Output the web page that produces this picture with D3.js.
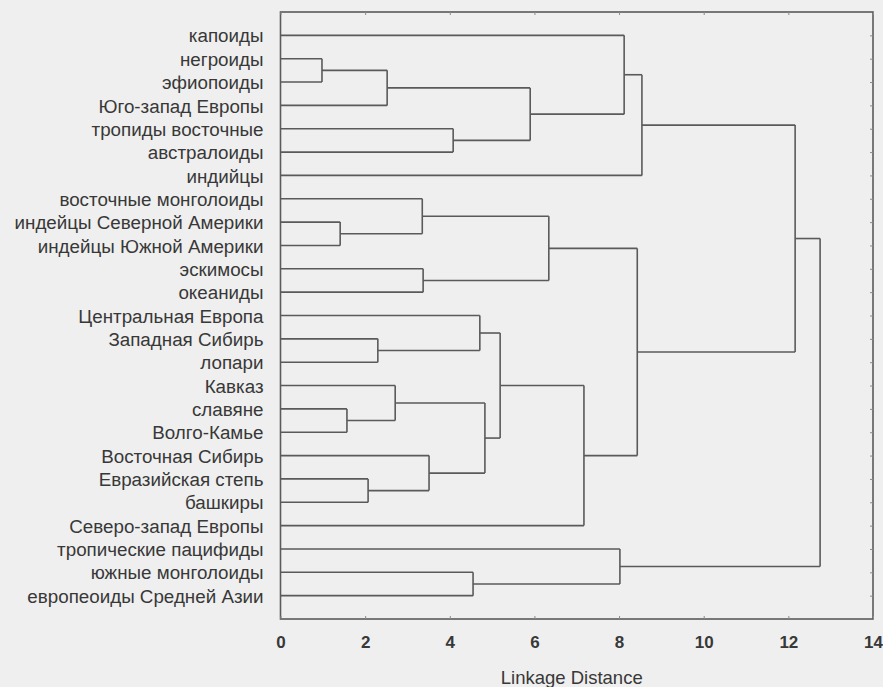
<!DOCTYPE html>
<html>
<head>
<meta charset="utf-8">
<script src="https://cdn.jsdelivr.net/npm/d3@7"></script>
<style>
  body { margin: 0; background: #efefef; }
  svg { display: block; }
  text { font-family: "Liberation Sans", Arial, sans-serif; }
</style>
</head>
<body>
<svg id="chart" width="883" height="687"></svg>
<script>
// Leaves, top to bottom
const leaves = [
  "капоиды", "негроиды", "эфиопоиды", "Юго-запад Европы", "тропиды восточные",
  "австралоиды", "индийцы", "восточные монголоиды", "индейцы Северной Америки",
  "индейцы Южной Америки", "эскимосы", "океаниды", "Центральная Европа",
  "Западная Сибирь", "лопари", "Кавказ", "славяне", "Волго-Камье",
  "Восточная Сибирь", "Евразийская степь", "башкиры", "Северо-запад Европы",
  "тропические пацифиды", "южные монголоиды", "европеоиды Средней Азии"
];

// Agglomeration steps: node id, its two members, linkage distance
const nodeIds = [
  "c1", "c2", "c3", "c4", "c5", "c6", "c7", "c8", "c9", "c10", "c11", "c12",
  "c13", "c14", "c15", "c16", "c17", "c18", "c19", "c20", "c21", "c22", "c23", "root"
];
const firstMember = [
  "негроиды", "c1", "тропиды восточные", "c2", "капоиды", "c5",
  "индейцы Северной Америки", "восточные монголоиды", "эскимосы", "c8",
  "Западная Сибирь", "Центральная Европа", "славяне", "Кавказ",
  "Евразийская степь", "Восточная Сибирь", "c14", "c12", "c18", "c10",
  "c6", "южные монголоиды", "тропические пацифиды", "c21"
];
const secondMember = [
  "эфиопоиды", "Юго-запад Европы", "австралоиды", "c3", "c4", "индийцы",
  "индейцы Южной Америки", "c7", "океаниды", "c9",
  "лопари", "c11", "Волго-Камье", "c13",
  "башкиры", "c15", "c16", "c17", "Северо-запад Европы", "c19",
  "c20", "европеоиды Средней Азии", "c22", "c23"
];
const linkageDistance = [
  0.98, 2.52, 4.08, 5.90, 8.12, 8.54,
  1.41, 3.35, 3.37, 6.34,
  2.30, 4.71, 1.57, 2.71,
  2.07, 3.51, 4.83, 5.19, 7.17, 8.43,
  12.16, 4.55, 8.02, 12.75
];

const xTicks = [0, 2, 4, 6, 8, 10, 12, 14];
const xTitle = "Linkage Distance";

const svg = d3.select("#chart");
const W = 883, H = 687;
const plot = { left: 280.5, right: 873, top: 12, bottom: 619 };

const x = d3.scaleLinear().domain([0, 14]).range([plot.left, plot.right]);
const y = d3.scalePoint().domain(leaves).range([plot.top, plot.bottom]).padding(1);

// Build the tree from the merge table
const nodes = new Map();
leaves.forEach(name => nodes.set(name, { name, height: 0, children: null }));
nodeIds.forEach((id, i) => {
  nodes.set(id, {
    name: id,
    height: linkageDistance[i],
    children: [nodes.get(firstMember[i]), nodes.get(secondMember[i])]
  });
});
const root = d3.hierarchy(nodes.get("root"));

// Leaves sit on their rows; each cluster sits midway between its two members
root.eachAfter(d => {
  d.py = d.children ? (d.children[0].py + d.children[1].py) / 2 : y(d.data.name);
  d.px = x(d.data.height);
});

const lineColor = "#5a5a5a";
const textColor = "#383838";

svg.append("rect").attr("width", W).attr("height", H).attr("fill", "#efefef");

const g = svg.append("g");

// Horizontal arms from every member to the merge level of its parent
g.selectAll("line.arm")
  .data(root.descendants().filter(d => d.parent))
  .join("line")
  .attr("class", "arm")
  .attr("x1", d => d.px)
  .attr("x2", d => d.parent.px)
  .attr("y1", d => d.py)
  .attr("y2", d => d.py)
  .attr("stroke", lineColor)
  .attr("stroke-width", 1.6);

// Vertical joins at each linkage distance
g.selectAll("line.join")
  .data(root.descendants().filter(d => d.children))
  .join("line")
  .attr("class", "join")
  .attr("x1", d => d.px)
  .attr("x2", d => d.px)
  .attr("y1", d => d.children[0].py)
  .attr("y2", d => d.children[1].py)
  .attr("stroke", lineColor)
  .attr("stroke-width", 1.6);

// Frame
svg.append("rect")
  .attr("x", plot.left).attr("y", plot.top)
  .attr("width", plot.right - plot.left).attr("height", plot.bottom - plot.top)
  .attr("fill", "none").attr("stroke", lineColor).attr("stroke-width", 1.6);

// Bottom axis with inward ticks
const bottomAxis = svg.append("g")
  .attr("transform", `translate(0,${plot.bottom})`)
  .call(d3.axisBottom(x).tickValues(xTicks).tickSizeInner(-3).tickSizeOuter(0).tickPadding(17));
bottomAxis.select(".domain").remove();
bottomAxis.selectAll("line").attr("stroke", "#8a8a8a");
bottomAxis.selectAll("text")
  .attr("fill", textColor)
  .style("font-size", "17px")
  .style("font-weight", "bold");

// Top axis, ticks only
const topAxis = svg.append("g")
  .attr("transform", `translate(0,${plot.top})`)
  .call(d3.axisTop(x).tickValues(xTicks).tickSizeInner(-3).tickSizeOuter(0).tickFormat(""));
topAxis.select(".domain").remove();
topAxis.selectAll("line").attr("stroke", "#8a8a8a");

// Right axis: a short tick at every leaf row
const rightAxis = svg.append("g")
  .attr("transform", `translate(${plot.right},0)`)
  .call(d3.axisRight(y).tickSizeInner(-3).tickSizeOuter(0).tickFormat(""));
rightAxis.select(".domain").remove();
rightAxis.selectAll("line").attr("stroke", "#8a8a8a");

// Leaf labels
svg.append("g")
  .selectAll("text")
  .data(leaves)
  .join("text")
  .attr("x", plot.left - 17)
  .attr("y", d => y(d))
  .attr("dy", "0.38em")
  .attr("text-anchor", "end")
  .attr("fill", textColor)
  .style("font-size", "18.8px")
  .text(d => d);

// Axis title
svg.append("text")
  .attr("x", (plot.left + plot.right) / 2 - 5)
  .attr("y", 684)
  .attr("text-anchor", "middle")
  .attr("fill", textColor)
  .style("font-size", "18.5px")
  .text(xTitle);
</script>
</body>
</html>
